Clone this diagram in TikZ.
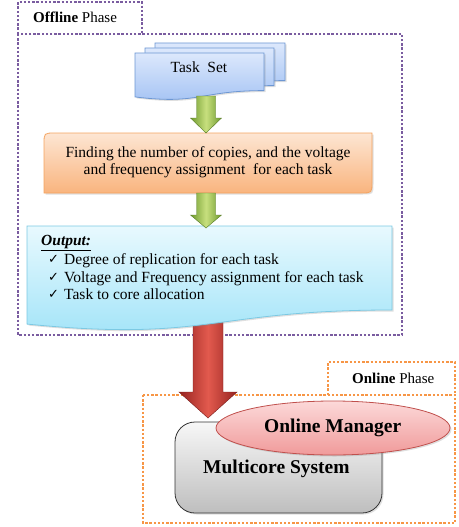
\documentclass[tikz,border=0pt]{standalone}
\usepackage{fontspec}
\setmainfont{Liberation Serif}
\newfontfamily\symf{DejaVu Sans}
\usetikzlibrary{calc,shadows}
\definecolor{purp}{HTML}{7A5CA0}
\definecolor{orng}{HTML}{F79646}
\definecolor{tsTop}{HTML}{DCE8FC}
\definecolor{tsBot}{HTML}{A2C1F3}
\definecolor{tsLine}{HTML}{6D97D3}
\definecolor{fdTop}{HTML}{FDE6D3}
\definecolor{fdBot}{HTML}{F9B47E}
\definecolor{fdLine}{HTML}{F4A35F}
\definecolor{ouTop}{HTML}{E8F9FE}
\definecolor{ouBot}{HTML}{9FE3F8}
\definecolor{ouLine}{HTML}{7CC9E3}
\definecolor{grL}{HTML}{C8E07E}
\definecolor{grD}{HTML}{6E9A2E}
\definecolor{rdL}{HTML}{E25A4E}
\definecolor{rdD}{HTML}{962320}
\definecolor{elTop}{HTML}{FCD9D9}
\definecolor{elBot}{HTML}{F09A9A}
\definecolor{elLine}{HTML}{C0504D}
\definecolor{gyTop}{HTML}{F7F7F7}
\definecolor{gyBot}{HTML}{BEBEBE}
\tikzset{
  dotbox/.style={line width=2.8pt, dash pattern=on 2.4pt off 1.8pt},
  shad/.style={drop shadow={opacity=0.25, shadow xshift=1.5pt, shadow yshift=-1.5pt}},
  tspage/.style={top color=tsTop, bottom color=tsBot, draw=tsLine, line width=0.8pt},
  greenarrow/.style={left color=grD, right color=grD, middle color=grL, draw=grD!80!black, line width=0.4pt},
  redarrow/.style={left color=rdD, right color=rdD, middle color=rdL, draw=rdD!80!black, line width=0.4pt},
  body/.style={font=\fontsize{15.5}{17.5}\selectfont, inner sep=0pt},
  lbl/.style={font=\fontsize{15}{17}\selectfont, inner sep=0pt},
  big/.style={font=\fontsize{19.5}{22}\selectfont\bfseries, inner sep=0pt},
  chk/.style={font=\symf\fontsize{13}{14}\selectfont, inner sep=0pt}
}
\newcommand\blockarrow[6]{%
  \path[#1] ($(#2)+(-#4,0)$) -- ($(#3)+(-#4,-#6)$) -- ($(#3)+(-#5,-#6)$) -- (#3)
    -- ($(#3)+(#5,-#6)$) -- ($(#3)+(#4,-#6)$) -- ($(#2)+(#4,0)$) -- cycle;}
\newcommand\docpage[5]{% style, x, y, w, h
  \path[#1] (#2,#3) -- ({#2+#4},#3) -- ({#2+#4},{#3+0.8*#5})
    .. controls ({#2+0.5*#4},{#3+0.8*#5}) and ({#2+0.5*#4},{#3+1.107*#5}) .. (#2,{#3+0.934*#5}) -- cycle;}
\begin{document}
\begin{tikzpicture}[x=1pt,y=-1pt]
\useasboundingbox (0,0) rectangle (458,527);
% phase frames
\draw[dotbox, purp] (18,34) rectangle (402,335);
\draw[dotbox, purp] (18,34) -- (18,2) -- (142,2) -- (142,34);
\draw[dotbox, orng] (143,395) rectangle (455,523);
\draw[dotbox, orng] (328,395) -- (328,362) -- (455,362) -- (455,395);
\node[lbl, anchor=base west] (offlbl) at (33,23) {\textbf{Offline} Phase};
\node[lbl, anchor=base west] (onlbl) at (352,383) {\textbf{Online} Phase};
% task set (stack of pages)
\docpage{tspage, shad}{155}{43}{130}{47}
\docpage{tspage, shad}{145}{48}{129}{47}
\docpage{tspage, shad}{135}{53}{129}{47}
\node[body, anchor=base] (taskset) at (199,73) {Task\ \ Set};
\coordinate (ts-out) at (206,96);
% finding box
\path[top color=fdTop, bottom color=fdBot, draw=fdLine, line width=0.8pt, shad]
  (44,193) -- (44,144) .. controls (44,133) .. (55,133) -- (372,133) -- (372,182)
  .. controls (372,193) .. (361,193) -- cycle;
\node[body, anchor=base] (find1) at (208,157) {Finding the number of copies, and the voltage};
\node[body, anchor=base] (find2) at (208,174) {and frequency assignment\ \ for each task};
\coordinate (fd-in) at (206,133);
\coordinate (fd-out) at (206,193);
\blockarrow{greenarrow}{ts-out}{fd-in}{9.5}{15.5}{15}
% red arrow behind output box
\coordinate (ou-out) at (208,318);
\coordinate (mc-in) at (208,418);
\blockarrow{redarrow}{ou-out}{mc-in}{15}{29}{26}
% output box
\docpage{top color=ouTop, bottom color=ouBot, draw=ouLine, line width=0.8pt, shad}{27}{226}{365}{105}
\coordinate (ou-in) at (206,228);
\blockarrow{greenarrow}{fd-out}{ou-in}{9.5}{15.5}{13}
\node[body, anchor=base west] (outt) at (41,245) {\underline{\textbf{\textit{Output:}}}};
\node[chk, anchor=base west] (c1) at (48,263) {✓};
\node[chk, anchor=base west] (c2) at (48,281) {✓};
\node[chk, anchor=base west] (c3) at (48,298) {✓};
\node[body, anchor=base west] (o1) at (64,264) {Degree of replication for each task};
\node[body, anchor=base west] (o2) at (64,282) {Voltage and Frequency assignment\ for each task};
\node[body, anchor=base west] (o3) at (64,299) {Task to core allocation};
% multicore system
\path[top color=gyTop, bottom color=gyBot, draw=black!80, line width=0.8pt, rounded corners=20pt, shad]
  (175,422) rectangle (382,513);
\node[big, anchor=base west] (mcs) at (203,473) {Multicore System};
% online manager
\path[top color=elTop, bottom color=elBot, draw=elLine, line width=0.8pt, shad]
  (333,428) ellipse [x radius=117, y radius=27];
\node[big, anchor=base west] (om) at (264,432) {Online Manager};
\end{tikzpicture}
\end{document}
